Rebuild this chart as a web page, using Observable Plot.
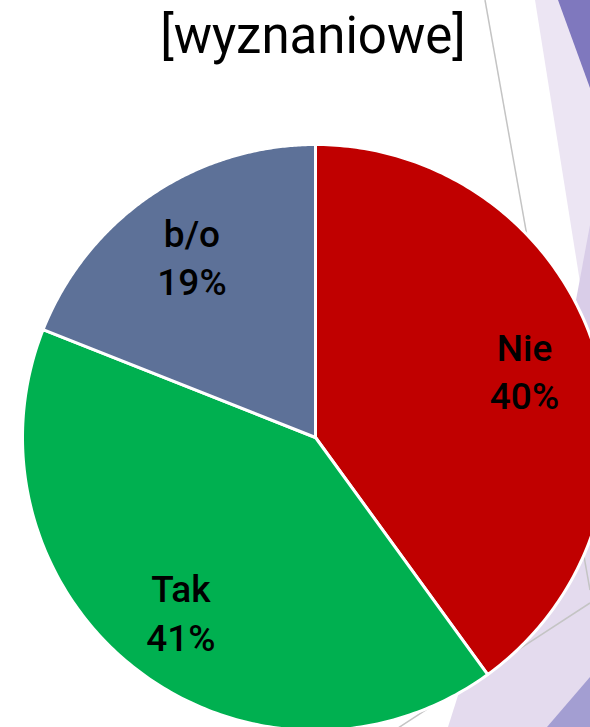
<!DOCTYPE html>
<html><head><meta charset="utf-8">
<script src="https://cdn.jsdelivr.net/npm/d3@7"></script>
<script src="https://cdn.jsdelivr.net/npm/@observablehq/plot@0.6"></script>
<style>
html,body{margin:0;padding:0;width:590px;height:727px;overflow:hidden;background:#fff;}
#bg{position:absolute;left:0;top:0;}
#title{position:absolute;left:0;width:626px;top:10px;text-align:center;font:400 51px Roboto;line-height:1;color:#000;}
#chart{position:absolute;left:0;top:75px;}
</style></head><body>
<div id="bg"></div>
<div id="title">[wyznaniowe]</div>
<div id="chart"></div>
<script>
// ---- data ----
const categories = ["Nie", "Tak", "b/o"];
const shares = [40, 41, 19];
const shareLabels = ["40%", "41%", "19%"];

// ---- styles / layout ----
const colors = ["#C00000", "#00B050", "#5D7198"];
const W = 590, H = 652, cx = 315, cy = 362, R = 293;
const labelRadius = 0.75;

// decorative background (slide theme shapes)
const bg = d3.select("#bg").append("svg").attr("width", 590).attr("height", 727);
const polys = [
  {fill: "#ECE5F3", pts: [[535,0],[590,0],[590,345]]},
  {fill: "#7F78BE", pts: [[558,0],[590,0],[590,88]]},
  {fill: "#D9CDE8", pts: [[590,225],[576,300],[590,345]]},
  {fill: "#E4DBEE", pts: [[448,727],[520,500],[590,470],[590,727]]},
  {fill: "#A39ED2", pts: [[547,727],[590,677],[590,727]]}
];
bg.selectAll("polygon").data(polys).join("polygon")
  .attr("points", d => d.pts.map(p => p.join(",")).join(" "))
  .attr("fill", d => d.fill);
const lines = [[485,0,590,590],[590,603,395,730]];
bg.selectAll("line").data(lines).join("line")
  .attr("x1", d => d[0]).attr("y1", d => d[1]).attr("x2", d => d[2]).attr("y2", d => d[3])
  .attr("stroke", "#C4C4C4").attr("stroke-width", 1.5);

// ---- build pie geometry from data ----
const rows = categories.map((c, i) => ({category: c, value: shares[i], label: c + "\n" + shareLabels[i]}));
const arcs = d3.pie().sort(null).value(d => d.value)(rows);
const N = 180;
const slices = arcs.map(a => {
  const pts = [{x: 0, y: 0}];
  for (let k = 0; k <= N; k++) {
    const t = a.startAngle + (a.endAngle - a.startAngle) * k / N;
    pts.push({x: Math.sin(t), y: Math.cos(t)});
  }
  pts.push({x: 0, y: 0});
  return pts;
});
const labelData = arcs.map(a => {
  const m = (a.startAngle + a.endAngle) / 2;
  return {x: labelRadius * Math.sin(m), y: labelRadius * Math.cos(m), text: a.data.label};
});

const chart = Plot.plot({
  width: W,
  height: H,
  margin: 0,
  x: {domain: [-cx / R, (W - cx) / R], axis: null},
  y: {domain: [(cy - H) / R, cy / R], axis: null},
  style: {background: "transparent", overflow: "visible"},
  marks: [
    ...slices.map((pts, i) => Plot.line(pts, {
      x: "x", y: "y", fill: colors[i], stroke: "white", strokeWidth: 3, strokeLinejoin: "round"
    })),
    Plot.text(labelData, {
      x: "x", y: "y", text: "text", fontSize: 37, fontFamily: "Roboto", fontWeight: 500,
      lineHeight: 1.3, fill: "black"
    })
  ]
});
document.getElementById("chart").appendChild(chart);
</script>
</body></html>
